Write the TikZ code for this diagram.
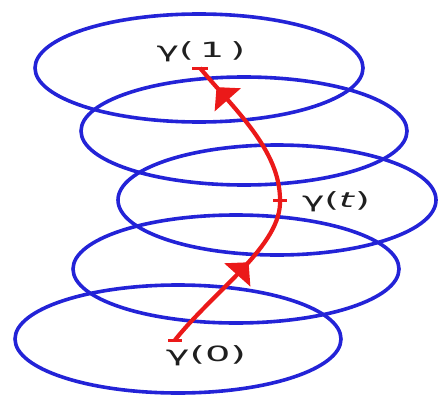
\documentclass[tikz,border=0pt]{standalone}
\usepackage{fontspec}
\setmainfont{DejaVu Sans}
\usepackage{graphicx}
\usetikzlibrary{arrows.meta,decorations.markings}
\definecolor{ringblue}{RGB}{35,35,215}
\definecolor{pathred}{RGB}{235,25,25}
\begin{document}
\begin{tikzpicture}[x=1pt,y=-1pt,
  ring/.style={draw=ringblue, line width=3.6pt},
  pathline/.style={draw=pathred, line width=4.2pt},
  tick/.style={draw=pathred, line width=3pt},
  lbl/.style={font=\fontsize{21}{21}\selectfont, text=black!88, inner sep=0pt},
  tipmark/.style={postaction={decorate, decoration={markings,
      mark=at position #1 with {\arrow[pathred]{Triangle[length=17pt,width=34pt]}}}}}
  ]
\useasboundingbox (0,0) rectangle (444,396);
% ellipses
\coordinate (c1) at (199,68);
\coordinate (c2) at (244,131);
\coordinate (c3) at (277,200);
\coordinate (c4) at (236,269);
\coordinate (c5) at (178,339);
\draw[ring] (c1) ellipse [x radius=164, y radius=54];
\draw[ring] (c2) ellipse [x radius=163, y radius=54];
\draw[ring] (c3) ellipse [x radius=159, y radius=55];
\draw[ring] (c4) ellipse [x radius=163, y radius=54];
\draw[ring] (c5) ellipse [x radius=163, y radius=54];
% path points
\coordinate (g0) at (175,340);
\coordinate (gt) at (280,200);
\coordinate (g1) at (200,68);
\draw[pathline, tipmark=0.6] (g0) .. controls (215,290) and (282,245) .. (gt);
\draw[pathline, tipmark=0.84] (gt) .. controls (280,150) and (235,110) .. (g1);
\draw[tick] ([xshift=-7pt]g0) -- ([xshift=7pt]g0);
\draw[tick] ([xshift=-7pt]gt) -- ([xshift=7pt]gt);
\draw[tick] ([xshift=-8pt]g1) -- ([xshift=8pt]g1);
% labels
\node[lbl] (l1) at (201,52) {\scalebox{1.8}[1]{γ(\,1\,)}};
\node[lbl] (l0) at (206,356) {\scalebox{1.9}[1]{γ(0)}};
\node[lbl] (lt) at (336,202) {\scalebox{1.8}[1]{γ(\textit{t})}};
\end{tikzpicture}
\end{document}
